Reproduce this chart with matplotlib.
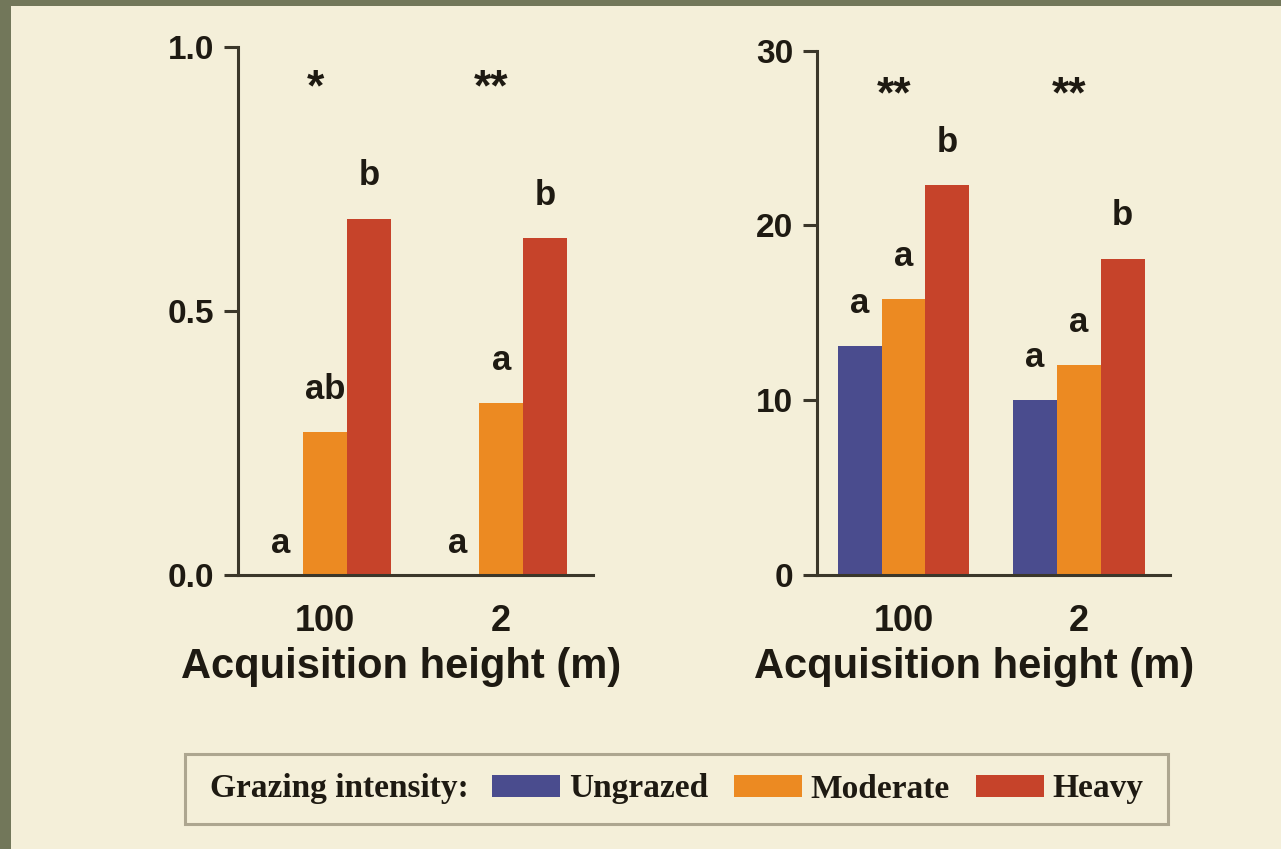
import matplotlib
matplotlib.use("Agg")
import matplotlib.pyplot as plt
import numpy as np
from matplotlib.patches import Patch, Rectangle
from matplotlib.offsetbox import HPacker, DrawingArea

# ---------------- data ----------------
groups = ["100", "2"]
series = ["Ungrazed", "Moderate", "Heavy"]
colors = ["#4a4c8e", "#ec8a22", "#c6432a"]

left_values = {
    "Ungrazed": [0.0, 0.0],
    "Moderate": [0.27, 0.325],
    "Heavy": [0.675, 0.638],
}
right_values = {
    "Ungrazed": [13.1, 10.0],
    "Moderate": [15.8, 12.0],
    "Heavy": [22.3, 18.1],
}
left_letters = {
    "Ungrazed": ["a", "a"],
    "Moderate": ["ab", "a"],
    "Heavy": ["b", "b"],
}
right_letters = {
    "Ungrazed": ["a", "a"],
    "Moderate": ["a", "a"],
    "Heavy": ["b", "b"],
}
left_stars = ["*", "**"]
right_stars = ["**", "**"]
left_yticks = [0.0, 0.5, 1.0]
left_yticklabels = ["0.0", "0.5", "1.0"]
right_yticks = [0, 10, 20, 30]
right_yticklabels = ["0", "10", "20", "30"]
xlabel = "Acquisition height (m)"
legend_title = "Grazing intensity:"

# ---------------- style ----------------
CREAM = "#f4efd9"
GRASS = "#72775a"
INK = "#1e1a12"
SPINE = "#3b372a"
SANS = "Liberation Sans"
SERIF = "Liberation Serif"

W, H = 1281, 849
fig = plt.figure(figsize=(W / 100, H / 100), dpi=100)
fig.patch.set_facecolor(GRASS)
fig.patches.append(Rectangle((11 / W, 0), 1 - 11 / W, 1 - 6 / H,
                             transform=fig.transFigure, facecolor=CREAM,
                             edgecolor="none", zorder=-10))

ax1 = fig.add_axes([238 / W, 1 - 575 / H, 355 / W, 528 / H])
ax2 = fig.add_axes([817 / W, 1 - 575 / H, 353 / W, 524.3 / H])

bar_w = 0.25
x = np.arange(len(groups))


def draw(ax, values, letters, stars, yticks, yticklabels, ylim, star_y, xlab_x):
    ax.set_facecolor("none")
    for i, s in enumerate(series):
        off = (i - 1) * bar_w
        ax.bar(x + off, values[s], width=bar_w, color=colors[i], linewidth=0, zorder=2)
        for j, v in enumerate(values[s]):
            dy = 24 if v > 0 else 16
            ax.annotate(letters[s][j], (x[j] + off, v), xytext=(0, dy),
                        textcoords="offset points", ha="center", va="baseline",
                        fontsize=25, fontweight="bold", family=SANS, color=INK)
    for j, st in enumerate(stars):
        ax.annotate(st, (x[j], star_y), xycoords=("data", "axes fraction"),
                    xytext=(-7, 0), textcoords="offset points",
                    ha="center", va="baseline", fontsize=32, fontweight="bold",
                    family=SANS, color=INK)
    ax.set_xlim(-0.493, 1.52)
    ax.set_ylim(*ylim)
    ax.set_yticks(yticks)
    ax.set_yticklabels(yticklabels)
    ax.set_xticks(x)
    ax.set_xticklabels(groups)
    for sp in ["top", "right"]:
        ax.spines[sp].set_visible(False)
    for sp in ["left", "bottom"]:
        ax.spines[sp].set_color(SPINE)
        ax.spines[sp].set_linewidth(2.2)
    ax.tick_params(axis="y", direction="out", length=10, width=2.2, color=SPINE,
                   pad=7, labelsize=24, labelcolor=INK)
    ax.tick_params(axis="x", length=0, pad=21, labelsize=26, labelcolor=INK)
    for lab in ax.get_yticklabels() + ax.get_xticklabels():
        lab.set_fontfamily(SANS)
        lab.set_fontweight("bold")
    ax.set_xlabel(xlabel, fontsize=30, fontweight="bold", family=SANS, color=INK)
    ax.xaxis.label.set_va("baseline")
    ax.xaxis.set_label_coords(xlab_x, -(678 - 575) / (ax.get_position().height * H))


draw(ax1, left_values, left_letters, left_stars, left_yticks, left_yticklabels,
     (0, 1.0), 0.898, 0.459)
draw(ax2, right_values, right_letters, right_stars, right_yticks, right_yticklabels,
     (0, 30), 0.891, 0.445)

# ---------------- legend ----------------
handles = [Patch(facecolor=c, edgecolor="none") for c in colors]
leg = fig.legend(handles, series, ncol=3, loc="center",
                 bbox_to_anchor=(676.5 / W, 1 - 789 / H),
                 prop={"family": SERIF, "weight": "bold", "size": 24},
                 title=legend_title,
                 title_fontproperties={"family": SERIF, "weight": "bold", "size": 24},
                 handlelength=2.04, handleheight=0.63, handletextpad=0.25,
                 columnspacing=0.78, borderpad=0.3, frameon=True, fancybox=False,
                 facecolor=CREAM, edgecolor="#ada690", framealpha=1.0)
leg.get_frame().set_linewidth(2.2)
for t in leg.get_texts():
    t.set_color(INK)
leg.get_title().set_color(INK)
inner = HPacker(pad=0, sep=17, align="center",
                children=[leg._legend_title_box, leg._legend_handle_box])
leg._legend_box = HPacker(pad=14, sep=0, align="center",
                          children=[DrawingArea(4, 1), inner, DrawingArea(4, 1)])
leg._legend_box.set_figure(fig)
leg._legend_box.set_offset(leg._findoffset)

fig.savefig("out.png", dpi=100, facecolor=fig.get_facecolor())
